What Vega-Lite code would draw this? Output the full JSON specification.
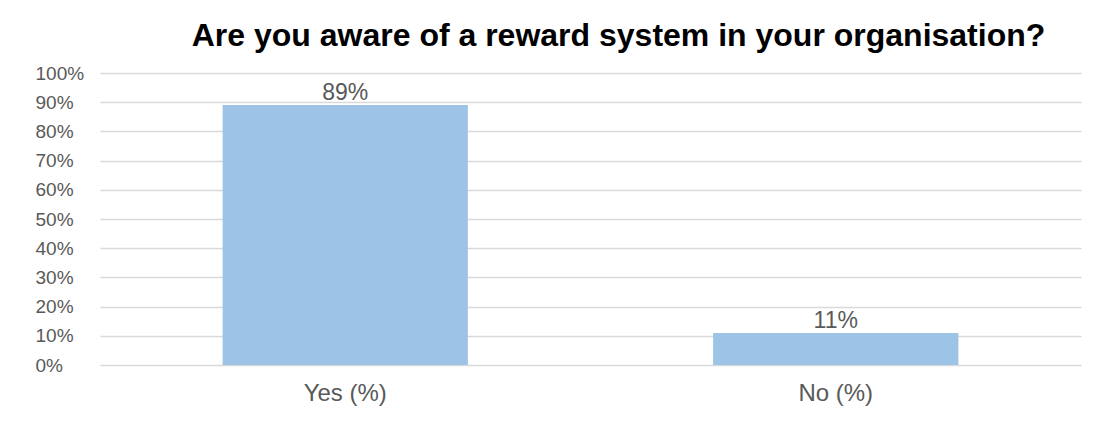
{
  "$schema": "https://vega.github.io/schema/vega-lite/v6.json",
  "width": 981,
  "height": 292,
  "autosize": {"type": "none"},
  "padding": {"left": 100, "top": 73, "right": 12, "bottom": 60},
  "background": "white",
  "title": {
    "text": "Are you aware of a reward system in your organisation?",
    "font": "Liberation Sans",
    "fontSize": 32,
    "fontWeight": "bold",
    "color": "#000000",
    "anchor": "middle",
    "offset": 11,
    "dx": 28
  },
  "data": {
    "values": [
      {"answer": "Yes (%)", "share": 0.89},
      {"answer": "No (%)", "share": 0.11}
    ]
  },
  "encoding": {
    "x": {
      "field": "answer",
      "type": "nominal",
      "sort": null,
      "scale": {"paddingInner": 0.5, "paddingOuter": 0.25},
      "axis": {
        "title": null,
        "labelAngle": 0,
        "domain": false,
        "ticks": false,
        "tickSize": 0,
        "labelPadding": 16,
        "labelFont": "Liberation Sans",
        "labelFontSize": 24,
        "labelColor": "#595959"
      }
    },
    "y": {
      "field": "share",
      "type": "quantitative",
      "scale": {"domain": [0, 1]},
      "axis": {
        "title": null,
        "format": ".0%",
        "values": [0, 0.1, 0.2, 0.3, 0.4, 0.5, 0.6, 0.7, 0.8, 0.9, 1],
        "labelOverlap": false,
        "domain": false,
        "ticks": false,
        "tickSize": 0,
        "grid": true,
        "gridColor": "#d9d9d9",
        "gridWidth": 1.5,
        "labelAlign": "left",
        "labelPadding": 65,
        "labelFont": "Liberation Sans",
        "labelFontSize": 19,
        "labelColor": "#595959"
      }
    }
  },
  "layer": [
    {"mark": {"type": "bar", "color": "#9dc3e6"}},
    {
      "mark": {
        "type": "text",
        "baseline": "alphabetic",
        "dy": -5,
        "font": "Liberation Sans",
        "fontSize": 23,
        "color": "#595959"
      },
      "encoding": {"text": {"field": "share", "type": "quantitative", "format": ".0%"}}
    }
  ],
  "config": {"view": {"stroke": null}}
}
